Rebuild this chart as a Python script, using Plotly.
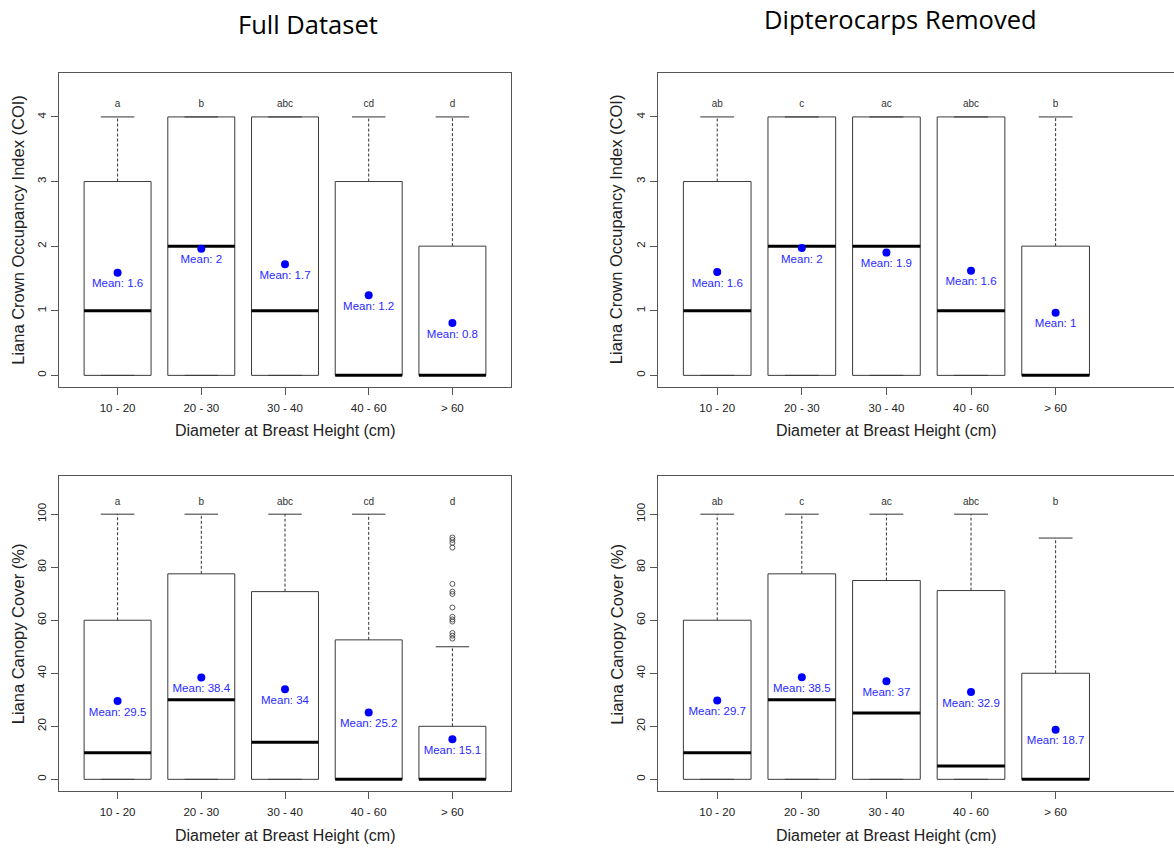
import plotly.graph_objects as go

# ---------------- data ----------------
categories = ["10 - 20", "20 - 30", "30 - 40", "40 - 60", "> 60"]

# Liana Crown Occupancy Index - full dataset
coi_full_q1 = [0, 0, 0, 0, 0]
coi_full_median = [1, 2, 1, 0, 0]
coi_full_q3 = [3, 4, 4, 3, 2]
coi_full_lo = [0, 0, 0, 0, 0]
coi_full_hi = [4, 4, 4, 4, 4]
coi_full_mean = [1.59, 1.96, 1.72, 1.24, 0.81]
coi_full_letters = ["a", "b", "abc", "cd", "d"]

# Liana Crown Occupancy Index - dipterocarps removed
coi_nodip_q1 = [0, 0, 0, 0, 0]
coi_nodip_median = [1, 2, 2, 1, 0]
coi_nodip_q3 = [3, 4, 4, 4, 2]
coi_nodip_lo = [0, 0, 0, 0, 0]
coi_nodip_hi = [4, 4, 4, 4, 4]
coi_nodip_mean = [1.6, 1.97, 1.9, 1.62, 0.97]
coi_nodip_letters = ["ab", "c", "ac", "abc", "b"]

# Liana canopy cover (%) - full dataset
cov_full_q1 = [0, 0, 0, 0, 0]
cov_full_median = [10, 30, 14, 0, 0]
cov_full_q3 = [60, 77.5, 70.8, 52.6, 20]
cov_full_lo = [0, 0, 0, 0, 0]
cov_full_hi = [100, 100, 100, 100, 50]
cov_full_mean = [29.5, 38.4, 34.0, 25.2, 15.1]
cov_full_letters = ["a", "b", "abc", "cd", "d"]
cov_full_outliers_gt60 = [91.2, 90.3, 89.2, 87.4, 73.7, 70.8, 69.9, 64.8,
                          61.3, 60.3, 59.5, 55.2, 54.2, 53.1]

# Liana canopy cover (%) - dipterocarps removed
cov_nodip_q1 = [0, 0, 0, 0, 0]
cov_nodip_median = [10, 30, 25, 5, 0]
cov_nodip_q3 = [60, 77.5, 75, 71.2, 40]
cov_nodip_lo = [0, 0, 0, 0, 0]
cov_nodip_hi = [100, 100, 100, 100, 91]
cov_nodip_mean = [29.7, 38.5, 37.0, 32.9, 18.7]
cov_nodip_letters = ["ab", "c", "ac", "abc", "b"]

panel_titles = ["Full Dataset", "Dipterocarps Removed"]
y_title_coi = "Liana Crown Occupancy Index (COI)"
y_title_cov = "Liana Canopy Cover (%)"
x_title = "Diameter at Breast Height (cm)"

# ---------------- layout constants ----------------
W, H = 1174, 848
FONT = "Liberation Sans, Arial, sans-serif"
BOXHALF = 0.4
CAPHALF = 0.2


def px(X):
    return X / W


def py(Y):
    return 1 - Y / H


fig = go.Figure()

panels = [
    dict(q1=coi_full_q1, med=coi_full_median, q3=coi_full_q3, lo=coi_full_lo, hi=coi_full_hi,
         mean=coi_full_mean, letters=coi_full_letters, out=None, letter_y=4.2, xa="x", ya="y"),
    dict(q1=coi_nodip_q1, med=coi_nodip_median, q3=coi_nodip_q3, lo=coi_nodip_lo, hi=coi_nodip_hi,
         mean=coi_nodip_mean, letters=coi_nodip_letters, out=None, letter_y=4.2, xa="x2", ya="y2"),
    dict(q1=cov_full_q1, med=cov_full_median, q3=cov_full_q3, lo=cov_full_lo, hi=cov_full_hi,
         mean=cov_full_mean, letters=cov_full_letters, out=cov_full_outliers_gt60, letter_y=104.5,
         xa="x3", ya="y3"),
    dict(q1=cov_nodip_q1, med=cov_nodip_median, q3=cov_nodip_q3, lo=cov_nodip_lo, hi=cov_nodip_hi,
         mean=cov_nodip_mean, letters=cov_nodip_letters, out=None, letter_y=104.5, xa="x4", ya="y4"),
]

for p in panels:
    xs = list(range(1, len(categories) + 1))
    bx, by, mx, my, wx, wy, cx, cy = [], [], [], [], [], [], [], []
    for i, x in enumerate(xs):
        q1, q3, md, lo, hi = p["q1"][i], p["q3"][i], p["med"][i], p["lo"][i], p["hi"][i]
        bx += [x - BOXHALF, x + BOXHALF, x + BOXHALF, x - BOXHALF, x - BOXHALF, None]
        by += [q1, q1, q3, q3, q1, None]
        mx += [x - BOXHALF, x + BOXHALF, None]
        my += [md, md, None]
        wx += [x, x, None, x, x, None]
        wy += [q3, hi, None, q1, lo, None]
        cx += [x - CAPHALF, x + CAPHALF, None, x - CAPHALF, x + CAPHALF, None]
        cy += [hi, hi, None, lo, lo, None]
    common = dict(xaxis=p["xa"], yaxis=p["ya"], showlegend=False, hoverinfo="skip")
    fig.add_trace(go.Scatter(x=wx, y=wy, mode="lines",
                             line=dict(color="#333333", width=1, dash="3px,2px"), **common))
    fig.add_trace(go.Scatter(x=cx, y=cy, mode="lines",
                             line=dict(color="#333333", width=1), **common))
    fig.add_trace(go.Scatter(x=bx, y=by, mode="lines",
                             line=dict(color="#3a3a3a", width=1), **common))
    fig.add_trace(go.Scatter(x=mx, y=my, mode="lines",
                             line=dict(color="#000000", width=3), **common))
    if p["out"]:
        fig.add_trace(go.Scatter(x=[len(categories)] * len(p["out"]), y=p["out"], mode="markers",
                                 marker=dict(symbol="circle-open", size=5, color="#333333",
                                             line=dict(width=0.8)), **common))
    fig.add_trace(go.Scatter(
        x=xs, y=p["mean"], mode="markers+text",
        text=[f"Mean: {round(m, 1):g}" for m in p["mean"]],
        textposition="bottom center",
        textfont=dict(family=FONT, size=11.5, color="#2a2aff"),
        marker=dict(color="#0000ff", size=8), **common))
    fig.add_trace(go.Scatter(
        x=xs, y=[p["letter_y"]] * len(xs), mode="text", text=p["letters"],
        textfont=dict(family=FONT, size=10, color="#333333"), **common))

# domains (paper fractions) from page pixel positions
xl = [px(59), px(511)]
xr = [px(658), 1.0]
yt = [py(387), py(73)]
yb = [py(791), py(476)]


def xax(domain, anchor, rng):
    return dict(domain=domain, anchor=anchor, range=rng, tickmode="array",
                tickvals=list(range(1, len(categories) + 1)), ticktext=categories,
                showline=True, mirror=True, linecolor="#555555", linewidth=1,
                ticks="outside", ticklen=7, tickcolor="#555555", showgrid=False,
                zeroline=False, ticklabelstandoff=3, automargin=False, fixedrange=True,
                tickfont=dict(family=FONT, size=11.5, color="#222222"))


def yax(domain, anchor, rng, dtick, mirror):
    return dict(domain=domain, anchor=anchor, range=rng, dtick=dtick, tick0=0,
                showline=True, mirror=mirror, linecolor="#555555", linewidth=1,
                ticks="outside", ticklen=7, tickcolor="#555555", showgrid=False,
                zeroline=False, tickangle=-90, automargin=False, fixedrange=True,
                tickfont=dict(family=FONT, size=11.5, color="#222222"))


right_max = 0.3 + (1174 - 658) / 84.6
fig.update_layout(
    width=W, height=H, margin=dict(l=0, r=0, t=0, b=0, pad=0, autoexpand=False),
    paper_bgcolor="white", plot_bgcolor="white",
    xaxis=xax(xl, "y", [0.3, 5.7]),
    yaxis=yax(yt, "x", [-0.18, 4.68], 1, True),
    xaxis2=xax(xr, "y2", [0.3, right_max]),
    yaxis2=yax(yt, "x2", [-0.18, 4.68], 1, False),
    xaxis3=xax(xl, "y3", [0.3, 5.7]),
    yaxis3=yax(yb, "x3", [-4.4, 114.4], 20, True),
    xaxis4=xax(xr, "y4", [0.3, right_max]),
    yaxis4=yax(yb, "x4", [-4.4, 114.4], 20, False),
)

ann = []
title_font = dict(family="Open Sans, sans-serif", size=25.5, color="#000000")
ann.append(dict(text=panel_titles[0], x=px(308), y=py(24.5), xref="paper", yref="paper",
                xanchor="center", yanchor="middle", showarrow=False, font=title_font))
ann.append(dict(text=panel_titles[1], x=px(900), y=py(19.5), xref="paper", yref="paper",
                xanchor="center", yanchor="middle", showarrow=False, font=title_font))
# y axis titles
for xt, yc, t in [(18.3, 229.5, y_title_coi), (616.7, 229.5, y_title_coi),
                  (18.3, 634, y_title_cov), (616.7, 634, y_title_cov)]:
    ann.append(dict(text=t, x=px(xt), y=py(yc), xref="paper", yref="paper", textangle=-90,
                    xanchor="center", yanchor="middle",
                    showarrow=False, font=dict(family=FONT, size=16.5, color="#222222")))
# x axis titles
for xr_, yc in [("x", 430.7), ("x2", 430.7), ("x3", 835.7), ("x4", 835.7)]:
    ann.append(dict(text=x_title, x=3, y=py(yc), xref=xr_, yref="paper",
                    xanchor="center", yanchor="middle",
                    showarrow=False, font=dict(family=FONT, size=16, color="#222222")))
fig.update_layout(annotations=ann)

# remove the default 8px page margin so the figure fills the window exactly
fig.write_html("out.html", config={"displayModeBar": False},
               post_script="document.body.style.margin='0px';")
